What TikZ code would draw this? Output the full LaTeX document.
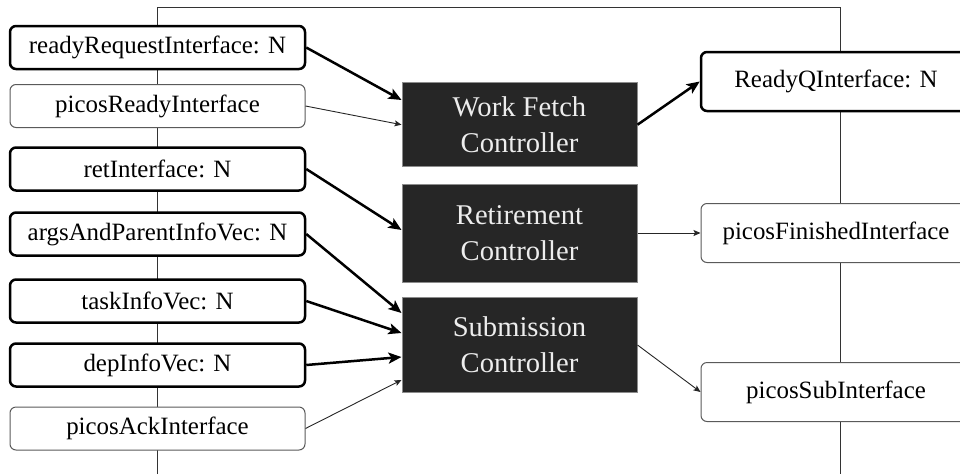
\documentclass[tikz,border=0pt]{standalone}
\usepackage{fontspec}
\setmainfont{Liberation Serif}
\usetikzlibrary{arrows.meta, positioning}
\definecolor{ctrlfill}{HTML}{262626}
\definecolor{ctrlline}{HTML}{8C8C8C}
\definecolor{ifline}{HTML}{5A5A5A}
\tikzset{
  ifbig/.style={draw=black, line width=2.5pt, rounded corners=6pt, fill=white,
    minimum width=295pt, minimum height=43pt, inner sep=0pt,
    font=\fontsize{24.9}{30}\selectfont},
  ifsmall/.style={ifbig, draw=ifline, line width=1pt},
  ifout/.style={ifbig, minimum width=270pt, minimum height=59pt},
  ifoutsmall/.style={ifout, draw=ifline, line width=1pt},
  ctrl/.style={draw=ctrlline, line width=1pt, fill=ctrlfill, text=white!93!black,
    minimum width=235pt, inner sep=0pt, align=center,
    font=\fontsize{28.6}{36}\selectfont},
  busln/.style={draw=black!80, line width=1pt},
  fat/.style={line width=2.5pt, -{Stealth[length=13pt, width=11pt, inset=3pt]}},
  slim/.style={line width=0.9pt, draw=black!85, -{Stealth[length=7pt, width=6pt, inset=1.5pt]}},
}

\begin{document}
\begin{tikzpicture}[x=1pt, y=-1pt]

  \useasboundingbox (0,0) rectangle (960,474);
  \clip (0,0) rectangle (960,474);

  % bus frame behind the interfaces
  \coordinate (lbot) at (157.5,474);
  \coordinate (ltop) at (157.5,7);
  \coordinate (rtop) at (840,7);
  \coordinate (rbot) at (840,474);
  \draw[busln] (lbot) -- (ltop) -- (rtop) -- (rbot);

  % input interfaces
  \node[ifbig]   (rdyReq)   at (157.5,47.5) {readyRequestInterface: N};
  \node[ifsmall] (picosRdy) at (157.5,106)  {picosReadyInterface};
  \node[ifbig]   (retIf)    at (157.5,169)  {retInterface: N};
  \node[ifbig]   (argsVec)  at (157.5,234)  {argsAndParentInfoVec: N};
  \node[ifbig]   (taskVec)  at (157.5,301)  {taskInfoVec: N};
  \node[ifbig]   (depVec)   at (157.5,365)  {depInfoVec: N};
  \node[ifsmall] (picosAck) at (157.5,428.5){picosAckInterface};

  % controllers
  \node[ctrl, minimum height=84pt] (wfc) at (519.5,124.7) {Work Fetch\\Controller};
  \node[ctrl, minimum height=98pt] (rc)  at (519.5,233)   {Retirement\\Controller};
  \node[ctrl, minimum height=95pt] (sc)  at (519.5,345)   {Submission\\Controller};

  % output interfaces
  \node[ifout]      (rdyQ)     at (836,81.5) {ReadyQInterface: N};
  \node[ifoutsmall] (picosFin) at (836,233)  {picosFinishedInterface};
  \node[ifoutsmall] (picosSub) at (836,392)  {picosSubInterface};

  % inputs -> controllers
  \draw[fat]  (rdyReq.east)   -- ([yshift=24.7pt]wfc.west);
  \draw[slim] (picosRdy.east) -- (wfc.west);
  \draw[fat]  (retIf.east)    -- ([yshift=3pt]rc.west);
  \draw[fat]  (argsVec.east)  -- ([yshift=32pt]sc.west);
  \draw[fat]  (taskVec.east)  -- ([yshift=12pt]sc.west);
  \draw[fat]  (depVec.east)   -- ([yshift=-12pt]sc.west);
  \draw[slim] (picosAck.east) -- ([yshift=-35pt]sc.west);

  % controllers -> outputs
  \draw[fat]  (wfc.east) -- (rdyQ.west);
  \draw[slim] (rc.east)  -- (picosFin.west);
  \draw[slim] (sc.east)  -- (picosSub.west);

\end{tikzpicture}
\end{document}
